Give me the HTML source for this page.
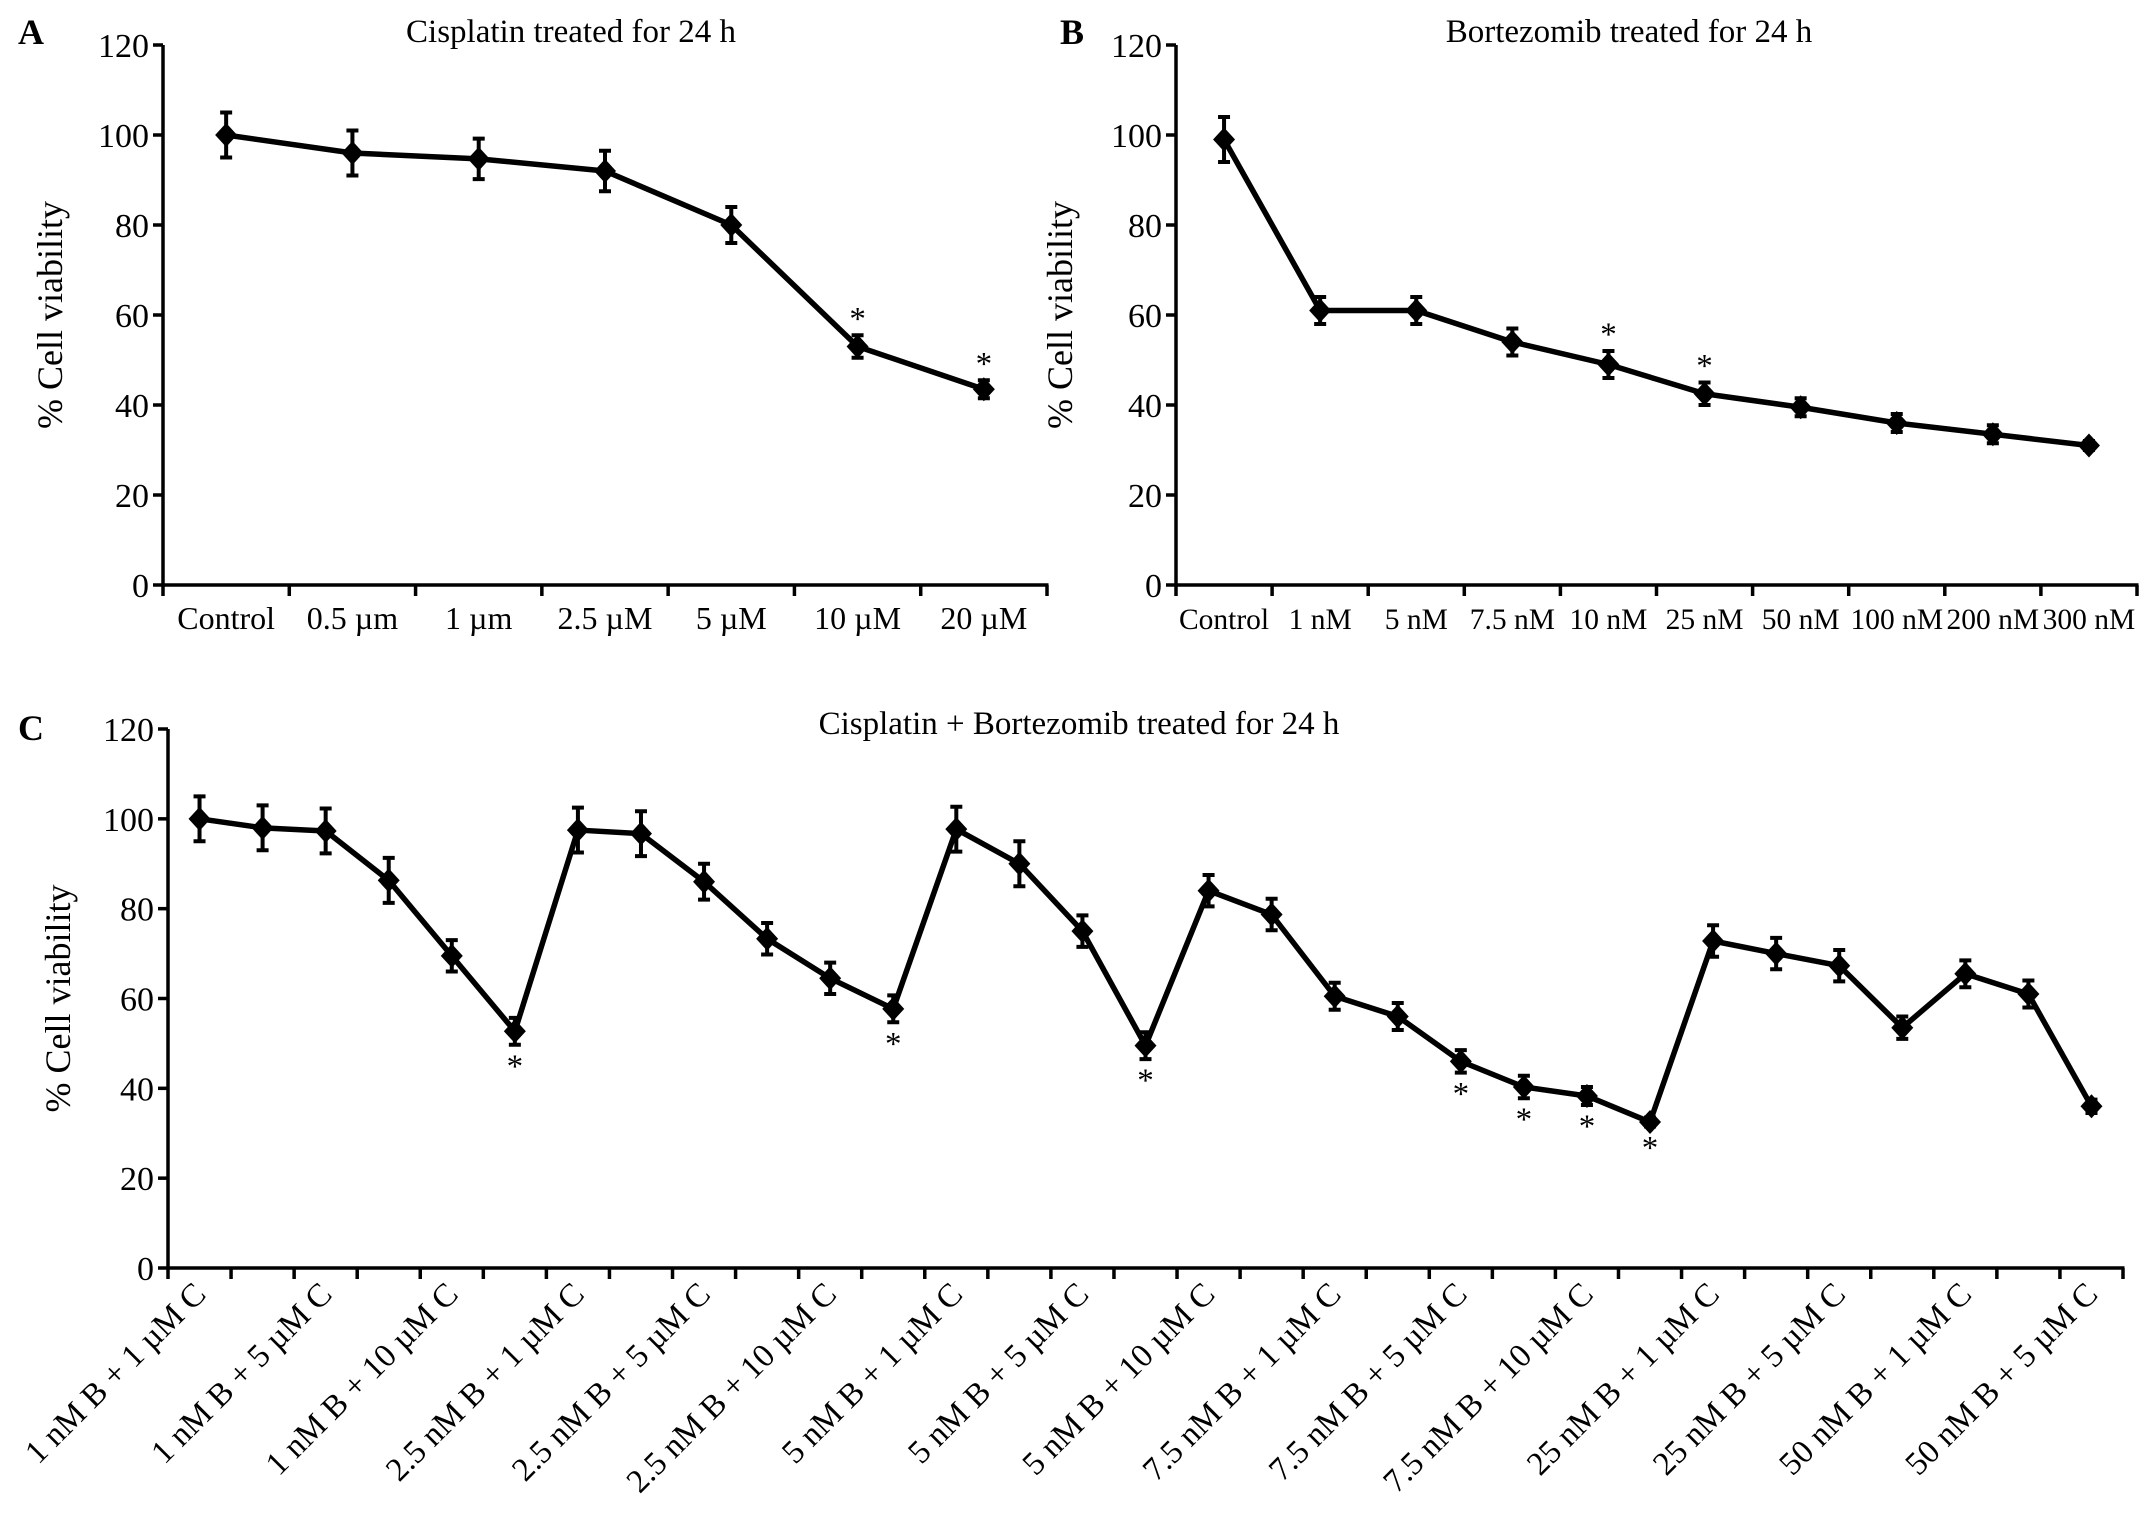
<!DOCTYPE html>
<html><head><meta charset="utf-8"><style>
html,body{margin:0;padding:0;background:#fff;}
svg{display:block;font-family:"Liberation Serif",serif;}
</style></head><body>
<svg id="fig" width="2150" height="1531" viewBox="0 0 2150 1531" xmlns="http://www.w3.org/2000/svg">
<text x="18" y="44" font-size="36" font-weight="bold">A</text>
<text x="1060" y="44" font-size="36" font-weight="bold">B</text>
<text x="18" y="740" font-size="36" font-weight="bold">C</text>
<text x="571" y="42" font-size="33" text-anchor="middle">Cisplatin treated for 24 h</text>
<text x="1629" y="42" font-size="33" text-anchor="middle">Bortezomib treated for 24 h</text>
<text x="1079" y="734" font-size="33" text-anchor="middle">Cisplatin + Bortezomib treated for 24 h</text>
<g id="ga"></g>
<g id="gb"></g>
<g id="gc"></g>
</svg>
<script>
const yTicks = [0, 20, 40, 60, 80, 100, 120];
const catsA = ["Control", "0.5 µm", "1 µm", "2.5 µM", "5 µM", "10 µM", "20 µM"];
const valsA = [100, 96, 94.7, 92, 80, 53, 43.5];
const errA = [5, 5, 4.5, 4.5, 4, 2.5, 2];
const starA = [0, 0, 0, 0, 0, 1, 1];
const catsB = ["Control", "1 nM", "5 nM", "7.5 nM", "10 nM", "25 nM", "50 nM", "100 nM", "200 nM", "300 nM"];
const valsB = [99, 61, 61, 54, 49, 42.5, 39.5, 36, 33.5, 31];
const errB = [5, 3, 3, 3, 3, 2.5, 2, 2, 2, 1];
const starB = [0, 0, 0, 0, 1, 1, 0, 0, 0, 0];
const catsC = ["1 nM B + 1 µM C", "", "1 nM B + 5 µM C", "", "1 nM B + 10 µM C", "", "2.5 nM B + 1 µM C", "", "2.5 nM B + 5 µM C", "", "2.5 nM B + 10 µM C", "", "5 nM B + 1 µM C", "", "5 nM B + 5 µM C", "", "5 nM B + 10 µM C", "", "7.5 nM B + 1 µM C", "", "7.5 nM B + 5 µM C", "", "7.5 nM B + 10 µM C", "", "25 nM B + 1 µM C", "", "25 nM B + 5 µM C", "", "50 nM B + 1 µM C", "", "50 nM B + 5 µM C"];
const valsC = [100, 98, 97.3, 86.3, 69.5, 52.7, 97.5, 96.7, 86, 73.3, 64.5, 57.7, 97.7, 90, 75, 49.5, 84, 78.7, 60.5, 56, 46, 40.3, 38.3, 32.5, 72.8, 70, 67.3, 53.5, 65.5, 61, 36];
const errC = [5, 5, 5, 5, 3.5, 3, 5, 5, 4, 3.5, 3.5, 3, 5, 5, 3.5, 3, 3.5, 3.5, 3, 3, 2.5, 2.5, 2, 1, 3.5, 3.5, 3.5, 2.5, 3, 3, 1.5];
const starC = [0,0,0,0,0,1,0,0,0,0,0,1,0,0,0,1,0,0,0,0,1,1,1,1,0,0,0,0,0,0,0];

const NS = "http://www.w3.org/2000/svg";
function mk(parent, tag, attrs, txt){
  const e = document.createElementNS(NS, tag);
  for (const k in attrs) e.setAttribute(k, attrs[k]);
  if (txt !== undefined) e.textContent = txt;
  parent.appendChild(e);
  return e;
}
function panel(g, o, cats, vals, errs, stars){
  const n = cats.length, w = (o.x1 - o.x0) / n;
  const X = i => o.x0 + (i + 0.5) * w;
  const Y = v => o.y0 - v / 120 * (o.y0 - o.y120);
  const ya = mk(g, "line", {x1:o.x0, y1:o.y120, x2:o.x0, y2:o.y0+1.5, stroke:"#000", "stroke-width":3.5});
  
  
  yTicks.forEach(t => {
    const tk = mk(g, "line", {x1:o.x0-10, y1:Y(t), x2:o.x0, y2:Y(t), stroke:"#000", "stroke-width":3.5});
    
    
    const tl = mk(g, "text", {x:o.x0-14, y:Y(t)+12, "font-size":34, "text-anchor":"end"}, String(t));
    
    
  });
  const yt = mk(g, "text", {x:0, y:0, "font-size":36, "text-anchor":"middle", transform:`translate(${o.tx},${(o.y0+o.y120)/2}) rotate(-90)`}, "% Cell viability");
  
  
  const xa = mk(g, "line", {x1:o.x0-1.5, y1:o.y0, x2:o.x1+1.5, y2:o.y0, stroke:"#000", "stroke-width":3.5});
  
  
  for (let i = 0; i <= n; i++){
    const tk = mk(g, "line", {x1:o.x0+i*w, y1:o.y0, x2:o.x0+i*w, y2:o.y0+11, stroke:"#000", "stroke-width":3.5});
    
    
  }
  cats.forEach((c, i) => {
    if (!c) return;
    let t;
    if (o.rot) t = mk(g, "text", {x:0, y:0, "font-size":33, "text-anchor":"end", transform:`translate(${X(i)+8},${o.y0+28}) rotate(-45)`}, c);
    else t = mk(g, "text", {x:X(i), y:o.y0+44, "font-size":o.lfs, "text-anchor":"middle"}, c);
    
    
  });
  const pts = vals.map((v, i) => X(i) + "," + Y(v)).join(" ");
  const pl = mk(g, "polyline", {points:pts, fill:"none", stroke:"#000", "stroke-width":5.5, "stroke-linejoin":"round"});
  
  
  vals.forEach((v, i) => {
    const x = X(i), y = Y(v), e = errs[i];
    const eb = mk(g, "path", {d:`M${x},${Y(v+e)}V${Y(v-e)}M${x-6},${Y(v+e)}H${x+6}M${x-6},${Y(v-e)}H${x+6}`, stroke:"#000", "stroke-width":4, fill:"none"});
    
    
    const m = mk(g, "path", {d:`M${x},${y-12}L${x+11},${y}L${x},${y+12}L${x-11},${y}Z`, fill:"#000"});
    
    
    if (stars[i]){
      const sy = o.starBelow ? Y(v-e) + 32 : Y(v+e) - 6;
      const s = mk(g, "text", {x:x, y:sy, "font-size":33, "text-anchor":"middle"}, "*");
      
      
    }
  });
}
panel(document.getElementById("ga"), {x0:163, x1:1047, y0:585, y120:45, tx:62, lfs:32}, catsA, valsA, errA, starA);
panel(document.getElementById("gb"), {x0:1176, x1:2137, y0:585, y120:45, tx:1072, lfs:29.5}, catsB, valsB, errB, starB);
panel(document.getElementById("gc"), {x0:168, x1:2123, y0:1268, y120:729, tx:70, rot:true, starBelow:true}, catsC, valsC, errC, starC);
</script>
</body></html>
